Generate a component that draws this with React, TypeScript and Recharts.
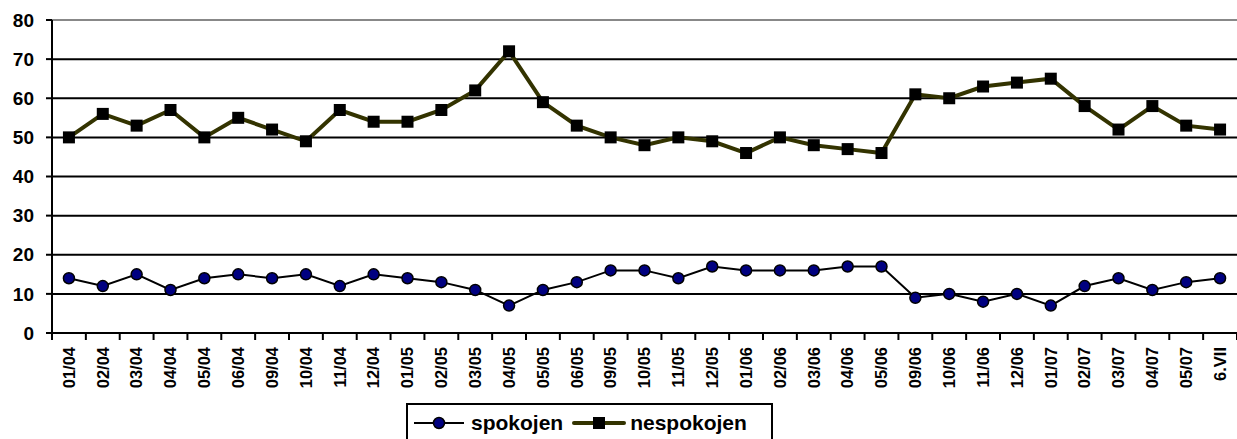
import { LineChart, Line, XAxis, YAxis, CartesianGrid, ReferenceLine } from 'recharts';

const labels = [
  '01/04', '02/04', '03/04', '04/04', '05/04', '06/04', '09/04', '10/04', '11/04', '12/04',
  '01/05', '02/05', '03/05', '04/05', '05/05', '06/05', '09/05', '10/05', '11/05', '12/05',
  '01/06', '02/06', '03/06', '04/06', '05/06', '09/06', '10/06', '11/06', '12/06',
  '01/07', '02/07', '03/07', '04/07', '05/07', '6.VII',
];
const spokojen = [
  14, 12, 15, 11, 14, 15, 14, 15, 12, 15,
  14, 13, 11, 7, 11, 13, 16, 16, 14, 17,
  16, 16, 16, 17, 17, 9, 10, 8, 10,
  7, 12, 14, 11, 13, 14,
];
const nespokojen = [
  50, 56, 53, 57, 50, 55, 52, 49, 57, 54,
  54, 57, 62, 72, 59, 53, 50, 48, 50, 49,
  46, 50, 48, 47, 46, 61, 60, 63, 64,
  65, 58, 52, 58, 53, 52,
];
const yTicks = [0, 10, 20, 30, 40, 50, 60, 70, 80];

const data = labels.map((l, i) => ({ label: l, spokojen: spokojen[i], nespokojen: nespokojen[i] }));

const W = 1237;
const H = 439;
const Y_AXIS_W = 52;
const band = (W - Y_AXIS_W) / labels.length;
const font = '"Liberation Sans", Arial, sans-serif';

const XTick = (props: any) => {
  const { x, y, payload, index } = props;
  return (
    <g>
      <line x1={x - band / 2} y1={y} x2={x - band / 2} y2={y + 7} stroke="#000" strokeWidth={2} />
      {index === labels.length - 1 && (
        <line x1={x + band / 2} y1={y} x2={x + band / 2} y2={y + 7} stroke="#000" strokeWidth={2} />
      )}
      <text
        transform={`translate(${x},${y + 14}) rotate(-90)`}
        textAnchor="end"
        dy="0.35em"
        fontFamily={font}
        fontWeight="bold"
        fontSize={16.5}
        fill="#000"
      >
        {payload.value}
      </text>
    </g>
  );
};

const CircleDot = (props: any) => {
  const { cx, cy } = props;
  if (cx == null || cy == null) return null;
  return <circle cx={cx} cy={cy} r={5.5} fill="#000080" stroke="#000" strokeWidth={1.5} />;
};

const SquareDot = (props: any) => {
  const { cx, cy } = props;
  if (cx == null || cy == null) return null;
  return <rect x={cx - 6} y={cy - 6} width={12} height={12} fill="#000" />;
};

export default function App() {
  return (
    <div style={{ position: 'fixed', left: 0, top: 0, width: W, height: H, background: '#fff', overflow: 'hidden' }}>
      <LineChart width={W} height={H} data={data} margin={{ top: 20, right: 0, bottom: 0, left: 0 }}>
        <CartesianGrid vertical={false} stroke="#000" strokeWidth={2} horizontalValues={[10, 20, 30, 40, 50, 60, 70]} />
        <ReferenceLine y={80} stroke="#888" strokeWidth={2} />
        <XAxis
          dataKey="label"
          scale="band"
          interval={0}
          height={106}
          tickLine={false}
          tickSize={0}
          tickMargin={0}
          axisLine={{ stroke: '#000', strokeWidth: 2 }}
          tick={<XTick />}
        />
        <YAxis
          width={Y_AXIS_W}
          domain={[0, 80]}
          ticks={yTicks}
          interval={0}
          tickSize={6}
          tickMargin={12}
          axisLine={{ stroke: '#000', strokeWidth: 2 }}
          tickLine={{ stroke: '#000', strokeWidth: 2 }}
          tick={{ fill: '#000', fontFamily: font, fontWeight: 'bold', fontSize: 19 }}
        />
        <Line
          dataKey="spokojen"
          type="linear"
          stroke="#000"
          strokeWidth={2}
          dot={<CircleDot />}
          activeDot={false}
          isAnimationActive={false}
        />
        <Line
          dataKey="nespokojen"
          type="linear"
          stroke="#333300"
          strokeWidth={4}
          dot={<SquareDot />}
          activeDot={false}
          isAnimationActive={false}
        />
      </LineChart>
      <div
        style={{
          position: 'absolute',
          left: 406,
          top: 403,
          width: 367,
          height: 44,
          border: '2px solid #000',
          boxSizing: 'border-box',
          fontFamily: font,
          fontWeight: 'bold',
          fontSize: 21,
          display: 'flex',
          alignItems: 'flex-start',
          paddingTop: 6,
        }}
      >
        <svg width={52} height={24} style={{ marginLeft: 5 }}>
          <line x1={1} y1={12} x2={51} y2={12} stroke="#000" strokeWidth={2} />
          <circle cx={26} cy={12} r={5.5} fill="#000080" stroke="#000" strokeWidth={1.5} />
        </svg>
        <span style={{ marginLeft: 6, lineHeight: '24px' }}>spokojen</span>
        <svg width={56} height={24} style={{ marginLeft: 8 }}>
          <line x1={3} y1={12} x2={53} y2={12} stroke="#333300" strokeWidth={4} strokeLinecap="round" />
          <rect x={22} y={6} width={12} height={12} fill="#000" />
        </svg>
        <span style={{ marginLeft: 3, lineHeight: '24px' }}>nespokojen</span>
      </div>
    </div>
  );
}
